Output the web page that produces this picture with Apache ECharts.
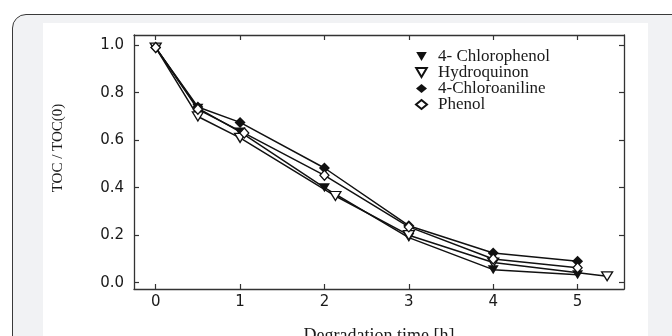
<!DOCTYPE html>
<html>
<head>
<meta charset="utf-8">
<script src="https://cdn.jsdelivr.net/npm/echarts@6/dist/echarts.min.js"></script>
<style>
    html, body { margin: 0; padding: 0; background: #fff; overflow: hidden; }
    .frame {
        position: absolute; left: 12px; top: 14px; width: 680px; height: 340px;
        border: 1px solid #3a3a3a; border-radius: 14px; background: #f1f2f4;
    }
    .panel { position: absolute; left: 43px; top: 23px; width: 605px; height: 330px; background: #fff; }
    #chart { position: absolute; left: 0; top: 0; width: 672px; height: 336px; }
</style>
</head>
<body>
<div class="frame"></div>
<div class="panel"></div>
<div id="chart"></div>
<script>
// degradation time [h] and TOC/TOC(0) per compound
const names = ['4- Chlorophenol', 'Hydroquinon', '4-Chloroaniline', 'Phenol'];
const chlorophenolTime = [0, 0.5, 1, 2, 3, 4, 5];
const chlorophenolToc = [0.99, 0.735, 0.635, 0.40, 0.19, 0.055, 0.033];
const hydroquinonTime = [0, 0.5, 1, 2.13, 3, 4, 5.35];
const hydroquinonToc = [0.99, 0.70, 0.61, 0.365, 0.20, 0.085, 0.027];
const chloroanilineTime = [0, 0.5, 1, 2, 3, 4, 5];
const chloroanilineToc = [0.99, 0.74, 0.675, 0.483, 0.24, 0.125, 0.09];
const phenolTime = [0, 0.5, 1.05, 2, 3, 4, 5];
const phenolToc = [0.99, 0.73, 0.63, 0.452, 0.235, 0.10, 0.063];

const xTicks = [0, 1, 2, 3, 4, 5];
const yTicks = [0, 0.2, 0.4, 0.6, 0.8, 1.0];

const triDown = 'path://M0,0 L10,0 L5,8.5 Z';
const axisColor = '#333';
const serif = '"Liberation Serif", "Times New Roman", serif';

function pairs(t, v) {
    return t.map((x, i) => [x, v[i]]);
}

function makeSeries(name, t, v, symbol, size, open) {
    return {
        name: name,
        type: 'line',
        data: pairs(t, v),
        symbol: symbol,
        symbolSize: size,
        showAllSymbol: true,
        lineStyle: { color: '#111', width: 1.5 },
        itemStyle: open
            ? { color: '#fff', borderColor: '#111', borderWidth: 1.3 }
            : { color: '#111', borderColor: '#111', borderWidth: 0 },
        emphasis: { disabled: true },
        animation: false
    };
}

const chart = echarts.init(document.getElementById('chart'));

const baseAxis = {
    type: 'value',
    axisLine: { show: true, onZero: false, lineStyle: { color: axisColor, width: 1.3 } },
    axisTick: { show: true, inside: true, length: 5, lineStyle: { color: axisColor, width: 1.2 } },
    splitLine: { show: false }
};

const tickLabel = { fontFamily: 'DejaVu Sans', fontSize: 15, color: '#1a1a1a' };

const option = {
    grid: { left: 134, top: 35, right: 48, bottom: 47, containLabel: false, outerBoundsMode: 'none' },
    legend: {
        orient: 'vertical',
        left: 410,
        top: 43,
        itemWidth: 11,
        itemHeight: 9,
        itemGap: -1,
        selectedMode: false,
        textStyle: { fontFamily: serif, fontSize: 17, color: '#1a1a1a', padding: [0, 0, 0, 6] },
        data: [
            { name: names[0], icon: triDown },
            { name: names[1], icon: triDown },
            { name: names[2], icon: 'diamond' },
            { name: names[3], icon: 'diamond' }
        ]
    },
    xAxis: [
        Object.assign({}, baseAxis, {
            position: 'bottom',
            min: -0.257,
            max: 5.55,
            name: 'Degradation time [h]',
            nameLocation: 'middle',
            nameGap: 38,
            nameTextStyle: { fontFamily: serif, fontSize: 18, color: '#1a1a1a' },
            axisTick: Object.assign({}, baseAxis.axisTick, { customValues: xTicks }),
            axisLabel: Object.assign({ customValues: xTicks, margin: 6 }, tickLabel)
        }),
        Object.assign({}, baseAxis, {
            position: 'top',
            min: -0.257,
            max: 5.55,
            axisTick: Object.assign({}, baseAxis.axisTick, { customValues: xTicks }),
            axisLabel: { show: false }
        })
    ],
    yAxis: [
        Object.assign({}, baseAxis, {
            position: 'left',
            min: -0.0265,
            max: 1.043,
            axisTick: Object.assign({}, baseAxis.axisTick, { customValues: yTicks }),
            axisLabel: Object.assign({
                customValues: yTicks, margin: 10,
                formatter: v => v.toFixed(1)
            }, tickLabel)
        }),
        Object.assign({}, baseAxis, {
            position: 'right',
            min: -0.0265,
            max: 1.043,
            axisTick: Object.assign({}, baseAxis.axisTick, { customValues: yTicks }),
            axisLabel: { show: false }
        })
    ],
    graphic: [{
        type: 'text',
        x: 58,
        y: 148,
        rotation: Math.PI / 2,
        style: {
            text: 'TOC / TOC(0)',
            font: '15px ' + serif,
            fill: '#1a1a1a',
            align: 'center',
            verticalAlign: 'middle'
        }
    }],
    series: [
        makeSeries(names[0], chlorophenolTime, chlorophenolToc, triDown, [11, 9], false),
        makeSeries(names[1], hydroquinonTime, hydroquinonToc, triDown, [11, 9], true),
        makeSeries(names[2], chloroanilineTime, chloroanilineToc, 'diamond', [11, 11], false),
        makeSeries(names[3], phenolTime, phenolToc, 'diamond', [9, 10], true)
    ],
    animation: false
};

chart.setOption(option);
</script>
</body>
</html>
